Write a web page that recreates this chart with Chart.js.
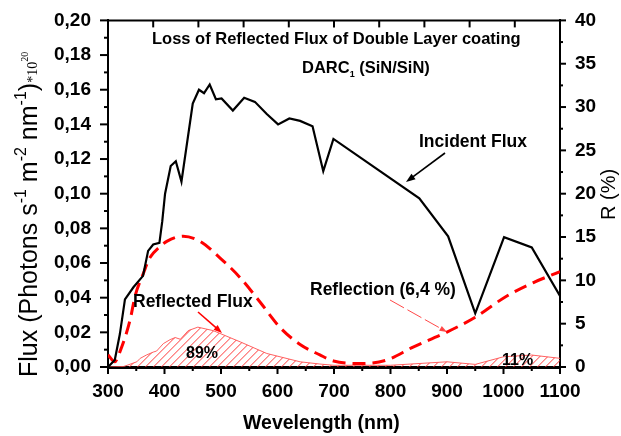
<!DOCTYPE html>
<html>
<head>
<meta charset="utf-8">
<script src="https://cdn.jsdelivr.net/npm/chart.js@4.4.0/dist/chart.umd.min.js"></script>
<style>
  html, body { margin: 0; padding: 0; background: #fff; }
  #wrap { width: 621px; height: 436px; }
</style>
</head>
<body>
<div id="wrap"><canvas id="chart" width="621" height="436"></canvas></div>
<script>
const FONT = '"Liberation Sans", Arial, sans-serif';

// Incident flux (photons s-1 m-2 nm-1, x1e20)
const incidentWl   = [300, 312, 321, 330, 345, 362, 371, 380, 391, 396, 401, 411, 420, 430, 450, 461, 470, 480, 491, 501, 521, 541, 560, 581, 601, 621, 640, 662, 681, 699, 851, 902, 950, 1001, 1050, 1100];
const incidentFlux = [0.000, 0.004, 0.019, 0.039, 0.046, 0.0526, 0.067, 0.0707, 0.0716, 0.084, 0.100, 0.116, 0.1187, 0.107, 0.152, 0.160, 0.158, 0.163, 0.1545, 0.155, 0.148, 0.1554, 0.153, 0.146, 0.140, 0.1434, 0.142, 0.1389, 0.113, 0.1316, 0.0973, 0.0754, 0.031, 0.0749, 0.069, 0.041];

// Reflection R (%) of the coating
const reflWl = [300, 312, 321, 339, 348, 362, 374, 392, 404, 433, 463, 498, 534, 569, 604, 640, 675, 699, 746, 793, 840, 899, 950, 1006, 1053, 1100];
const reflR  = [1.4, 0.6, 1.75, 5.4, 8.2, 10.7, 12.6, 13.9, 14.5, 15.1, 14.5, 12.6, 10.3, 7.5, 4.6, 2.6, 1.4, 0.7, 0.4, 0.8, 2.3, 4.0, 5.75, 8.2, 9.75, 11.0];

// Reflected flux
const reflectedWl   = [300, 327, 351, 357, 368, 380, 386, 398, 410, 419, 428, 442, 459, 486, 498, 534, 581, 640, 675, 700, 800, 900, 950, 1000, 1050, 1100];
const reflectedFlux = [0.000, 0.0002, 0.003, 0.005, 0.0069, 0.0086, 0.0092, 0.0135, 0.0158, 0.017, 0.016, 0.021, 0.023, 0.021, 0.0194, 0.0145, 0.0078, 0.003, 0.0017, 0.001, 0.001, 0.003, 0.0015, 0.0059, 0.0069, 0.005];

// axis ticks
const xMajor = [300, 400, 500, 600, 700, 800, 900, 1000, 1100];
const xMinor = [350, 450, 550, 650, 750, 850, 950, 1050];
const xTop   = [380, 460, 540, 620, 700, 780, 860, 940, 1020];
const yMajor = [0, 0.02, 0.04, 0.06, 0.08, 0.10, 0.12, 0.14, 0.16, 0.18, 0.20];
const yMinor = [0.01, 0.03, 0.05, 0.07, 0.09, 0.11, 0.13, 0.15, 0.17, 0.19];
const rMajor = [0, 5, 10, 15, 20, 25, 30, 35, 40];
const rMinor = [2.5, 7.5, 12.5, 17.5, 22.5, 27.5, 32.5, 37.5];

const pts = (xs, ys) => xs.map((x, i) => ({ x: x, y: ys[i] }));

function arrow(ctx, x1, y1, x2, y2, color, width, head, dash) {
  const a = Math.atan2(y2 - y1, x2 - x1);
  ctx.save();
  ctx.strokeStyle = color;
  ctx.fillStyle = color;
  ctx.lineWidth = width;
  if (dash) ctx.setLineDash(dash);
  ctx.beginPath();
  ctx.moveTo(x1, y1);
  ctx.lineTo(x2 - Math.cos(a) * head * 0.6, y2 - Math.sin(a) * head * 0.6);
  ctx.stroke();
  ctx.setLineDash([]);
  ctx.beginPath();
  ctx.moveTo(x2, y2);
  ctx.lineTo(x2 - head * Math.cos(a - 0.35), y2 - head * Math.sin(a - 0.35));
  ctx.lineTo(x2 - head * Math.cos(a + 0.35), y2 - head * Math.sin(a + 0.35));
  ctx.closePath();
  ctx.fill();
  ctx.restore();
}

// draws pieces of text one after another (for super/subscripts)
function richText(ctx, parts, x, y) {
  let cx = x;
  parts.forEach(p => {
    ctx.font = (p.bold === false ? '' : 'bold ') + p.size + 'px ' + (p.family || FONT);
    ctx.fillText(p.t, cx, y + (p.dy || 0));
    cx += ctx.measureText(p.t).width;
  });
}

// red hatching under the reflected flux curve
const hatch = {
  id: 'hatch',
  beforeDatasetDraw(chart, args) {
    if (chart.data.datasets[args.index].label !== 'Reflected Flux') return;
    const meta = args.meta;
    const p = meta.data;
    const ctx = chart.ctx;
    const area = chart.chartArea;
    const base = chart.scales.y.getPixelForValue(0);
    ctx.save();
    ctx.beginPath();
    meta.dataset.path(ctx);
    ctx.lineTo(p[p.length - 1].x, base);
    ctx.lineTo(p[0].x, base);
    ctx.closePath();
    ctx.clip();
    ctx.strokeStyle = '#ff3a3a';
    ctx.lineWidth = 1;
    ctx.beginPath();
    const h = area.bottom - area.top;
    for (let s = area.left - h; s < area.right; s += 8) {
      ctx.moveTo(s, area.bottom);
      ctx.lineTo(s + h, area.top);
    }
    ctx.stroke();
    ctx.restore();
  }
};

const decorations = {
  id: 'decorations',
  afterDraw(chart) {
    const ctx = chart.ctx;
    const { x, y, y2 } = chart.scales;
    const area = chart.chartArea;
    ctx.save();
    ctx.strokeStyle = '#000';
    ctx.lineWidth = 2;

    // top frame line
    ctx.beginPath();
    ctx.moveTo(area.left - 1, area.top);
    ctx.lineTo(area.right + 1, area.top);
    ctx.stroke();

    const tick = (x1, y1, x2, y2) => { ctx.beginPath(); ctx.moveTo(x1, y1); ctx.lineTo(x2, y2); ctx.stroke(); };
    xMajor.forEach(v => { const p = x.getPixelForValue(v); tick(p, area.bottom, p, area.bottom + 7); });
    xMinor.forEach(v => { const p = x.getPixelForValue(v); tick(p, area.bottom, p, area.bottom + 4); });
    xTop.forEach(v => { const p = x.getPixelForValue(v); tick(p, area.top, p, area.top + 7); });
    yMajor.forEach(v => { const p = y.getPixelForValue(v); tick(area.left - 8, p, area.left, p); });
    yMinor.forEach(v => { const p = y.getPixelForValue(v); tick(area.left - 4, p, area.left, p); });
    rMajor.forEach(v => { const p = y2.getPixelForValue(v); tick(area.right, p, area.right + 6, p); });
    rMinor.forEach(v => { const p = y2.getPixelForValue(v); tick(area.right, p, area.right + 3, p); });

    ctx.fillStyle = '#000';
    ctx.textBaseline = 'alphabetic';
    ctx.textAlign = 'left';

    // title
    ctx.font = 'bold 16.5px ' + FONT;
    ctx.fillText('Loss of Reflected Flux of Double Layer coating', 152, 44);
    richText(ctx, [
      { t: 'DARC', size: 16.5 },
      { t: '1', size: 9, dy: 4 },
      { t: ' (SiN/SiN)', size: 16.5 }
    ], 302, 73);

    // annotations
    ctx.font = 'bold 17.5px ' + FONT;
    ctx.fillText('Incident Flux', 419, 147);
    ctx.fillText('Reflected Flux', 133, 307);
    ctx.fillText('Reflection (6,4 %)', 310, 295);
    ctx.font = 'bold 16px ' + FONT;
    ctx.fillText('89%', 186, 358);
    ctx.fillText('11%', 502, 365);

    arrow(ctx, 445, 153, 406, 182, '#000', 1.6, 10);
    arrow(ctx, 198, 312, 222, 333, '#ff0000', 1.6, 9);
    arrow(ctx, 390, 300, 447, 332, 'rgba(255,40,40,0.85)', 1, 8, [16, 4]);

    // x axis title
    ctx.font = 'bold 19.5px ' + FONT;
    ctx.fillText('Wevelength (nm)', 243, 429);

    // left axis title (rotated)
    ctx.save();
    ctx.translate(37, 377);
    ctx.rotate(-Math.PI / 2);
    richText(ctx, [
      { t: 'Flux (Photons s', size: 25, bold: false },
      { t: '-1', size: 16, dy: -11, bold: false },
      { t: ' m', size: 25, bold: false },
      { t: '-2', size: 16, dy: -11, bold: false },
      { t: ' nm', size: 25, bold: false },
      { t: '-1', size: 16, dy: -11, bold: false },
      { t: ')', size: 25, bold: false },
      { t: '*10', size: 14, bold: false, family: '"Liberation Serif", serif' },
      { t: '20', size: 10, dy: -9, bold: false, family: '"Liberation Serif", serif' }
    ], 0, 0);
    ctx.restore();

    // right axis title
    ctx.save();
    ctx.translate(615, 220);
    ctx.rotate(-Math.PI / 2);
    ctx.font = '20px ' + FONT;
    ctx.fillText('R (%)', 0, 0);
    ctx.restore();

    ctx.restore();
  }
};

const tickFont = { family: FONT, size: 19, weight: 'bold' };

new Chart(document.getElementById('chart'), {
  type: 'line',
  data: {
    datasets: [
      {
        label: 'Incident Flux',
        data: pts(incidentWl, incidentFlux),
        yAxisID: 'y',
        borderColor: '#000',
        borderWidth: 2.2,
        pointRadius: 0,
        tension: 0,
        fill: false
      },
      {
        label: 'Reflection',
        data: pts(reflWl, reflR),
        yAxisID: 'y2',
        borderColor: '#ff0000',
        borderWidth: 3,
        borderDash: [13, 7],
        pointRadius: 0,
        cubicInterpolationMode: 'monotone',
        fill: false
      },
      {
        label: 'Reflected Flux',
        data: pts(reflectedWl, reflectedFlux),
        yAxisID: 'y',
        borderColor: 'rgba(255,80,80,0.9)',
        borderWidth: 1,
        pointRadius: 0,
        tension: 0,
        fill: false
      }
    ]
  },
  options: {
    responsive: false,
    animation: false,
    layout: { padding: { top: 17, left: 0, right: 0, bottom: 0 } },
    plugins: { legend: { display: false }, tooltip: { enabled: false } },
    scales: {
      x: {
        type: 'linear',
        min: 300, max: 1100,
        grid: { display: false },
        border: { display: true, color: '#000', width: 3 },
        ticks: { stepSize: 100, color: '#000', font: tickFont, padding: 5, maxRotation: 0, callback: v => String(v) },
        afterFit: s => { s.height = 69; }
      },
      y: {
        position: 'left',
        min: 0, max: 0.2,
        grid: { display: false },
        border: { display: true, color: '#000', width: 2 },
        ticks: {
          stepSize: 0.02, color: '#000', font: tickFont, padding: 9,
          callback: v => v.toFixed(2).replace('.', ',')
        },
        afterFit: s => { s.width = 108; }
      },
      y2: {
        position: 'right',
        min: 0, max: 40,
        grid: { display: false },
        border: { display: true, color: '#000', width: 2 },
        ticks: { stepSize: 5, color: '#000', font: tickFont, padding: 7 },
        afterFit: s => { s.width = 61; }
      }
    }
  },
  plugins: [hatch, decorations]
});
</script>
</body>
</html>
